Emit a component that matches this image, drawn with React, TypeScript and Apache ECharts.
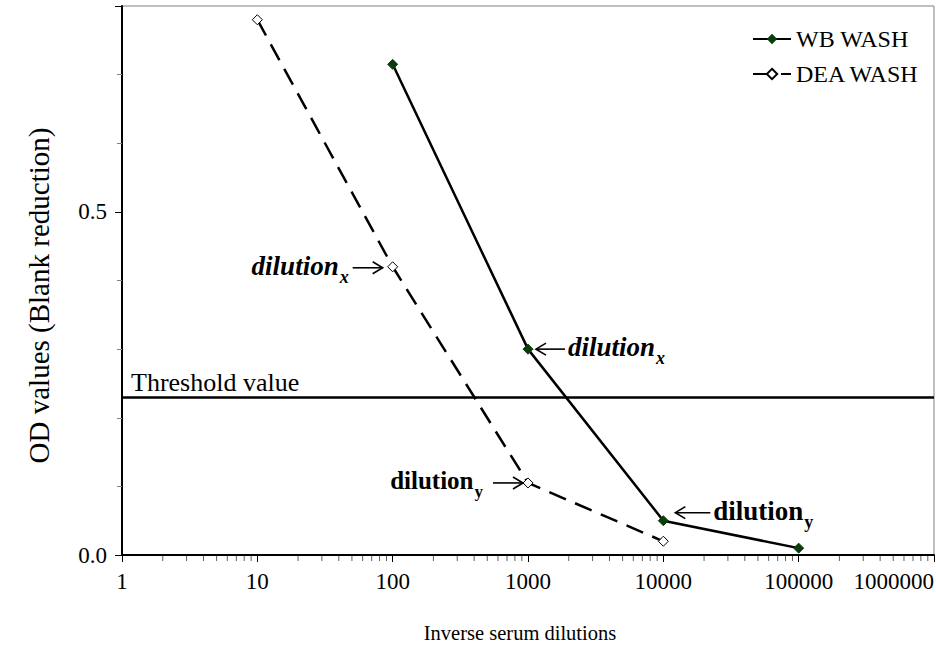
import React, { useEffect, useRef } from 'react';
import * as echarts from 'echarts';

const SERIES_NAMES = ['WB WASH', 'DEA WASH'];
const WB_X = [100, 1000, 10000, 100000];
const WB_Y = [0.715, 0.3, 0.05, 0.01];
const DEA_X = [10, 100, 1000, 10000];
const DEA_Y = [0.78, 0.42, 0.105, 0.02];
const THRESHOLD = 0.233;
const THRESHOLD_LABEL = 'Threshold value';
const X_NAME = 'Inverse serum dilutions';
const Y_NAME = 'OD values (Blank reduction)';
const Y_TICK_LABELS = ['0.0', '0.5'];
const MINOR_X_TICKS = [
  2, 3, 4, 5, 6, 7, 8, 9,
  20, 30, 40, 50, 60, 70, 80, 90,
  200, 300, 400, 500, 600, 700, 800, 900,
  2000, 3000, 4000, 5000, 6000, 7000, 8000, 9000,
  20000, 30000, 40000, 50000, 60000, 70000, 80000, 90000,
  200000, 300000, 400000, 500000, 600000, 700000, 800000, 900000,
];
// Annotations point at existing data points
const ANN_TEXT = ['dilution', 'dilution', 'dilution', 'dilution'];
const ANN_SUB = ['x', 'x', 'y', 'y'];
const ANN_X = [DEA_X[1], WB_X[1], DEA_X[2], WB_X[2]];
const ANN_Y = [DEA_Y[1], WB_Y[1], DEA_Y[2], WB_Y[2]];
const ANN_SIDE = ['left', 'right', 'left', 'right'];
const ANN_ITALIC = [true, true, false, false];

const FONT = "'Times New Roman', 'Liberation Serif', serif";

// per-annotation styling: [gap, arrowLen, dy, fontSize, textGap]
const ANN_STYLE = [
  [10, 30, 1, 27, 4],
  [8, 29, 0, 27, 3],
  [5, 30, 0, 25, 10],
  [12, 35, -8, 27, 3],
];

function annRenderItem(params: any, api: any) {
  const i = params.dataIndex;
  const p = api.coord([api.value(0), api.value(1)]);
  const [gap, len, dy, fs, tgap] = ANN_STYLE[i];
  const side = ANN_SIDE[i];
  const y = p[1] + dy;
  const dir = side === 'left' ? -1 : 1;
  const tip = p[0] + dir * gap;
  const tail = tip + dir * len;
  const italic = ANN_ITALIC[i];
  const mainStyle: any = {
    fontFamily: FONT,
    fontSize: fs,
    fontWeight: 'bold',
    fontStyle: italic ? 'italic' : 'normal',
    fill: '#000',
    color: '#000',
  };
  const subStyle: any = {
    fontFamily: FONT,
    fontSize: Math.round(fs * 0.68),
    fontWeight: 'bold',
    fontStyle: italic ? 'italic' : 'normal',
    fill: '#000',
    color: '#000',
    padding: [22, 0, 0, 1],
  };
  const head = 10;
  return {
    type: 'group',
    children: [
      {
        type: 'line',
        shape: { x1: tail, y1: y, x2: tip, y2: y },
        style: { stroke: '#000', lineWidth: 1.6 },
      },
      {
        type: 'polyline',
        shape: {
          points: [
            [tip + dir * head, y - 6],
            [tip, y],
            [tip + dir * head, y + 6],
          ],
        },
        style: { stroke: '#000', lineWidth: 1.6, fill: 'none' },
      },
      {
        type: 'text',
        x: side === 'left' ? tail - tgap : tail + tgap,
        y: y - 2,
        style: {
          text: '{m|' + ANN_TEXT[i] + '}{s|' + ANN_SUB[i] + '}',
          rich: { m: mainStyle, s: subStyle },
          fontFamily: FONT,
          fontSize: fs,
          fill: '#000',
          align: side === 'left' ? 'right' : 'left',
          verticalAlign: 'middle',
        },
      },
    ],
  };
}

export default function App() {
  const ref = useRef<HTMLDivElement>(null);
  useEffect(() => {
    if (!ref.current) return;
    const chart = echarts.init(ref.current, undefined, { renderer: 'svg' });
    chart.setOption({
      animation: false,
      backgroundColor: '#fff',
      textStyle: { fontFamily: FONT },
      grid: {
        left: 122,
        right: 2,
        top: 6,
        bottom: 94,
        show: true,
        borderColor: '#808080',
        borderWidth: 1,
        outerBoundsMode: 'none',
      },
      legend: {
        data: SERIES_NAMES,
        orient: 'vertical',
        left: 747,
        top: 22,
        itemWidth: 38,
        itemHeight: 13,
        itemGap: 11,
        textStyle: { fontFamily: FONT, fontSize: 24, color: '#000', lineHeight: 24 },
      },
      xAxis: {
        type: 'log',
        logBase: 10,
        min: 1,
        max: 1000000,
        name: X_NAME,
        nameLocation: 'middle',
        nameGap: 67,
        nameTextStyle: { fontFamily: FONT, fontSize: 20.5, color: '#000', padding: [0, 16, 0, 0] },
        axisLine: { lineStyle: { color: '#000', width: 2 } },
        axisTick: { length: 7, lineStyle: { color: '#000', width: 1 } },
        axisLabel: {
          fontFamily: FONT,
          fontSize: 23,
          color: '#000',
          margin: 15,
          alignMaxLabel: 'right',
          formatter: (v: number) => String(Math.round(v)),
        },
        splitLine: { show: false },
      },
      yAxis: {
        type: 'value',
        min: 0,
        max: 0.8,
        interval: 0.5,
        name: Y_NAME,
        nameLocation: 'middle',
        nameGap: 69,
        nameTextStyle: { fontFamily: FONT, fontSize: 29, color: '#000', padding: [0, 30, 0, 0] },
        axisLine: { show: true, lineStyle: { color: '#000', width: 2 } },
        axisTick: { show: true, length: 7, lineStyle: { color: '#000', width: 1 } },
        minorTick: { show: true, splitNumber: 5, length: 5, lineStyle: { color: '#808080', width: 1 } },
        axisLabel: {
          fontFamily: FONT,
          fontSize: 23,
          color: '#000',
          margin: 15,
          showMaxLabel: false,
          formatter: (v: number) => {
            const s = v.toFixed(1);
            return Y_TICK_LABELS.indexOf(s) >= 0 ? s : '';
          },
        },
        splitLine: { show: false },
        minorSplitLine: { show: false },
      },
      series: [
        {
          name: SERIES_NAMES[0],
          type: 'line',
          data: WB_X.map((x, i) => [x, WB_Y[i]]),
          symbol: 'diamond',
          symbolSize: 10,
          itemStyle: { color: '#0b3d0b', borderColor: '#0b3d0b' },
          lineStyle: { color: '#000', width: 2.5 },
          z: 3,
          markLine: {
            silent: true,
            symbol: 'none',
            data: [{ yAxis: THRESHOLD }],
            lineStyle: { color: '#000', width: 2.5, type: 'solid' },
            label: {
              position: 'insideStartTop',
              formatter: THRESHOLD_LABEL,
              fontFamily: FONT,
              fontSize: 26,
              color: '#000',
              distance: [9, 2],
            },
          },
        },
        {
          name: SERIES_NAMES[1],
          type: 'line',
          data: DEA_X.map((x, i) => [x, DEA_Y[i]]),
          symbol: 'diamond',
          symbolSize: 10,
          itemStyle: { color: '#fff', borderColor: '#000', borderWidth: 1 },
          lineStyle: { color: '#000', width: 2.5, type: [18, 10] },
          z: 3,
        },
        {
          name: 'minorTicks',
          type: 'custom',
          silent: true,
          clip: false,
          data: MINOR_X_TICKS.map((v) => [v, 0]),
          encode: { x: 0, y: 1 },
          renderItem: (params: any, api: any) => {
            const p = api.coord([api.value(0), 0]);
            return {
              type: 'line',
              shape: { x1: p[0], y1: p[1] + 1, x2: p[0], y2: p[1] + 6 },
              style: { stroke: '#606060', lineWidth: 1 },
            };
          },
          z: 1,
        },
        {
          name: 'annotations',
          type: 'custom',
          silent: true,
          clip: false,
          data: ANN_X.map((x, i) => [x, ANN_Y[i]]),
          encode: { x: 0, y: 1 },
          renderItem: annRenderItem,
          z: 5,
        },
      ],
    });
    return () => chart.dispose();
  }, []);
  return (
    <div
      ref={ref}
      style={{ position: 'fixed', left: 0, top: 0, width: 936, height: 649, background: '#fff' }}
    />
  );
}
